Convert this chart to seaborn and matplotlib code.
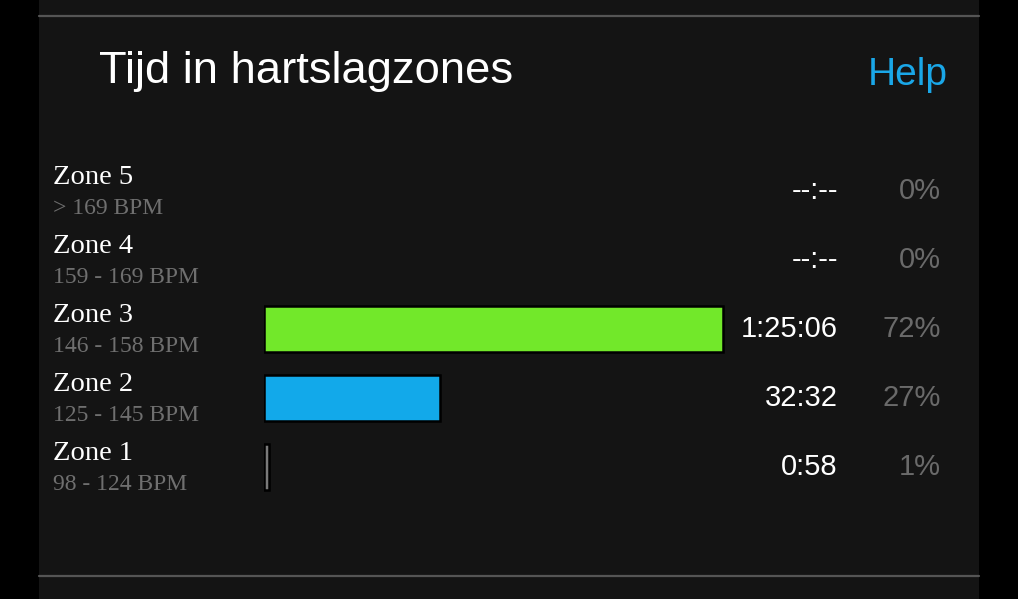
import numpy as np
import pandas as pd
import matplotlib
matplotlib.use("Agg")
import matplotlib.pyplot as plt
import matplotlib.transforms as mtransforms
from matplotlib.patches import Rectangle
import seaborn as sns

# ================= DATA =================

ZONES = ["Zone 5", "Zone 4", "Zone 3", "Zone 2", "Zone 1"]
RANGES = ["> 169 BPM", "159 - 169 BPM", "146 - 158 BPM", "125 - 145 BPM", "98 - 124 BPM"]
SECONDS = [0, 0, 5106, 1952, 58]
TIME_LABELS = ["--:--", "--:--", "1:25:06", "32:32", "0:58"]
PCT_LABELS = ["0%", "0%", "72%", "27%", "1%"]
COLORS = ["#72e82a", "#72e82a", "#72e82a", "#12a9ea", "#7a7a7a"]

TITLE = "Tijd in hartslagzones"
HELP = "Help"

W, H = 1018, 599

df = pd.DataFrame({"zone": ZONES, "seconds": SECONDS})

# ================= FIGURE =================

sns.set_theme(style="dark")
fig = plt.figure(figsize=(W / 100, H / 100), dpi=100)
fig.patch.set_facecolor("black")

# dark panel + separator lines
fig.add_artist(Rectangle((39 / W, 0), 940 / W, 1, transform=fig.transFigure,
                         facecolor="#141414", edgecolor="none", zorder=0))
for yy in [16, 576]:
    fig.add_artist(plt.Line2D([39 / W, 979 / W], [1 - yy / H, 1 - yy / H],
                              transform=fig.transFigure, color="#555555", lw=1.6))

# bars axes: left at 264px, 640px wide, rows 155..501 px from top
ax = fig.add_axes([264 / W, (H - 501.5) / H, 640 / W, 345 / H])
ax.set_facecolor("none")

sns.barplot(data=df, x="seconds", y="zone", hue="zone", order=ZONES,
            palette=dict(zip(ZONES, COLORS)), legend=False, width=0.68,
            saturation=1, edgecolor="black", linewidth=1.8, ax=ax)

# no outline for empty zones
for p in ax.patches:
    if p.get_width() == 0:
        p.set_linewidth(0)

ax.set_xlim(0, sum(SECONDS))
ax.set_ylim(4.5, -0.5)
ax.axis("off")

# texts
tr = mtransforms.blended_transform_factory(fig.transFigure, ax.transData)
serif = ["Liberation Serif", "DejaVu Serif"]
sans = ["Liberation Sans", "DejaVu Sans"]

for i in range(len(ZONES)):
    ax.text(53 / W, i - 0.2, ZONES[i], transform=tr, ha="left", va="center",
            color="white", fontsize=20.5, family=serif)
    ax.text(53 / W, i + 0.25, RANGES[i], transform=tr, ha="left", va="center",
            color="#6f6f6f", fontsize=17, family=serif)
    ax.text(838 / W, i, TIME_LABELS[i], transform=tr, ha="right", va="center",
            color="white", fontsize=21, family=sans)
    ax.text(941 / W, i, PCT_LABELS[i], transform=tr, ha="right", va="center",
            color="#6a6a6a", fontsize=21, family=sans)

fig.text(99 / W, 1 - 71 / H, TITLE, ha="left", va="center",
         color="white", fontsize=32.7, family=sans)
fig.text(948 / W, 1 - 75 / H, HELP, ha="right", va="center",
         color="#1aa7e8", fontsize=28, family=sans)

plt.savefig("out.png", dpi=100, facecolor=fig.get_facecolor())
